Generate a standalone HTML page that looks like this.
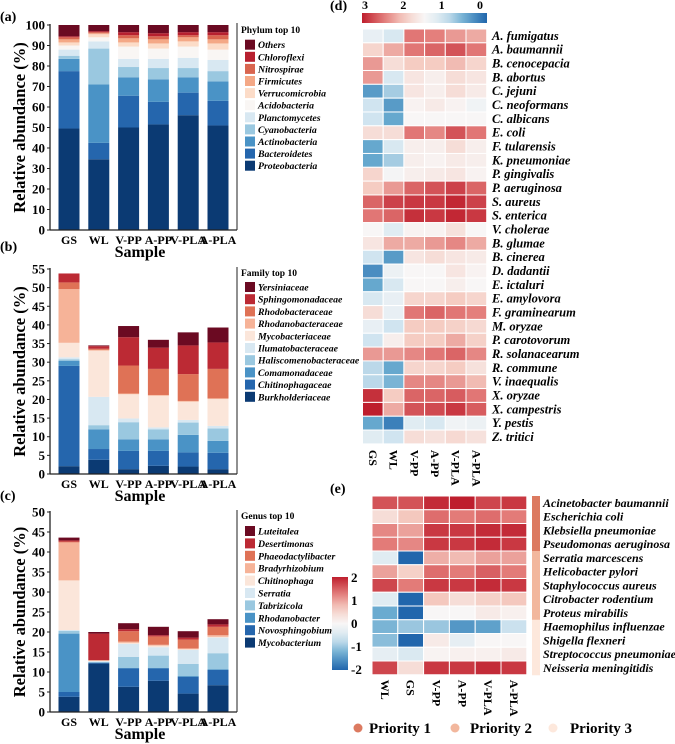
<!DOCTYPE html>
<html><head><meta charset="utf-8"><style>
html,body{margin:0;padding:0;background:#fff;}
svg{display:block;font-family:"Liberation Serif",serif;}
</style></head><body>
<svg id="fig" width="675" height="744" viewBox="0 0 675 744" xmlns="http://www.w3.org/2000/svg"></svg>
<script>
const samples = ["GS","WL","V-PP","A-PP","V-PLA","A-PLA"];
// Panel a (bottom->top)
const phylumNames = ["Proteobacteria","Bacteroidetes","Actinobacteria","Cyanobacteria","Planctomycetes","Acidobacteria","Verrucomicrobia","Firmicutes","Nitrospirae","Chloroflexi","Others"];
const phylumGS   = [49.5,28,6,1.5,3,2,1.5,1.5,1,0.5,5.5];
const phylumWL   = [34.5,8,28.5,17.5,3.5,2,1.5,0.5,0.5,0.5,3];
const phylumVPP  = [50,15.5,9,5,4,6,2,2,1.5,1.5,3.5];
const phylumAPP  = [51.5,11,11,5.5,4.5,5,2.5,2,1.5,1.5,4];
const phylumVPLA = [56,11,7.5,4.5,5,5.5,2.5,2,1,1.5,3.5];
const phylumAPLA = [51,12,9.5,5,5.5,5,3,2,2,1.5,3.5];
const phylumTicks = [0,10,20,30,40,50,60,70,80,90,100];
// Panel b
const familyNames = ["Burkholderiaceae","Chitinophagaceae","Comamonadaceae","Haliscomenobacteraceae","Ilumatobacteraceae","Mycobacteriaceae","Rhodanobacteraceae","Rhodobacteraceae","Sphingomonadaceae","Yersiniaceae"];
const familyGS   = [2.1,26.9,1.4,0.4,0.5,3.9,14.4,1.8,2.4,0];
const familyWL   = [3.8,2.9,5.3,1.1,7.6,12.4,0.2,0.3,0.7,0.2];
const familyVPP  = [1.3,4.9,3.1,4.6,1,6.5,0.2,7.5,7.6,3];
const familyAPP  = [2.2,4,3.1,2.7,0.5,8.5,0.2,7,5.7,2.1];
const familyVPLA = [2,3.8,4.7,3.3,0.7,4.9,0.2,7.2,7.7,3.5];
const familyAPLA = [1.3,4.4,3.2,3.3,0.7,7.2,0.2,7.9,7.1,4];
const familyTicks = [0,5,10,15,20,25,30,35,40,45,50,55];
// Panel c
const genusNames = ["Mycobacterium","Novosphingobium","Rhodanobacter","Tabrizicola","Serratia","Chitinophaga","Bradyrhizobium","Phaeodactylibacter","Desertimonas","Luteitalea"];
const genusGS   = [3.8,1.2,14.6,0.7,0.2,12.4,9.5,0.2,0.3,0.7];
const genusWL   = [12.1,0.2,0.1,0.1,0.2,0.1,0.1,0.1,6.6,0.4];
const genusVPP  = [6.3,4.6,0.1,2.8,3.2,0.3,0.3,2.6,0.5,1.5];
const genusAPP  = [7.8,3.1,0.1,3.1,2.1,0.4,0.2,2.1,0.3,2.1];
const genusVPLA = [4.6,4.2,0.2,3,3.5,0.2,0.2,2.2,0.5,1.6];
const genusAPLA = [6.7,3.8,0.2,4,3.9,0.2,0.4,2.1,0.6,1.3];
const genusTicks = [0,5,10,15,20,25,30,35,40,45,50];
// Panel d heatmap (0..3)
const dRows = ["A. fumigatus","A. baumannii","B. cenocepacia","B. abortus","C. jejuni","C. neoformans","C. albicans","E. coli","F. tularensis","K. pneumoniae","P. gingivalis","P. aeruginosa","S. aureus","S. enterica","V. cholerae","B. glumae","B. cinerea","D. dadantii","E. ictaluri","E. amylovora","F. graminearum","M. oryzae","P. carotovorum","R. solanacearum","R. commune","V. inaequalis","X. oryzae","X. campestris","Y. pestis","Z. tritici"];
const dCols = ["GS","WL","V-PP","A-PP","V-PLA","A-PLA"];
const dValues = [
[1.3,1.1,2.5,2.45,2.3,2.2],[1.9,2.2,2.5,2.6,2.7,2.5],[2.3,1.8,2.0,2.0,2.1,1.9],[2.3,1.1,1.7,1.6,1.8,1.7],
[0.4,0.8,1.7,1.6,1.8,1.65],[1.0,0.4,1.55,1.65,1.55,1.4],[1.0,0.5,1.5,1.5,1.5,1.5],[1.8,1.8,2.5,2.4,2.7,2.5],
[0.5,1.1,1.6,1.6,1.8,1.6],[0.5,0.8,1.6,1.55,1.65,1.6],[1.9,1.45,1.6,1.65,1.7,1.55],[2.0,2.3,2.6,2.7,2.8,2.6],
[2.6,2.8,2.85,2.85,2.95,2.8],[2.5,2.6,2.9,2.85,2.95,2.85],[1.5,1.2,1.55,1.55,1.75,1.5],[1.7,2.2,2.2,2.3,2.4,2.2],
[1.0,0.4,1.7,1.8,1.7,1.65],[0.3,1.35,1.5,1.5,1.7,1.55],[0.5,1.1,1.5,1.5,1.6,1.5],[1.1,1.3,1.9,1.9,2.0,1.9],
[1.8,1.3,2.5,2.6,2.5,2.45],[1.3,1.0,2.0,2.0,1.95,1.85],[1.0,1.6,2.0,2.0,2.2,1.95],[2.3,2.3,2.4,2.5,2.6,2.4],
[0.9,0.5,1.9,1.9,2.0,1.75],[0.9,0.6,2.4,2.4,2.3,2.1],[2.9,2.0,2.6,2.6,2.65,2.5],[3.0,2.2,2.7,2.75,2.85,2.65],
[0.5,0.2,1.2,1.1,1.4,1.35],[1.2,1.0,1.8,1.75,1.85,1.75]];
const dTicks = [3,2,1,0];
// Panel e heatmap (-2..2)
const eRows = ["Acinetobacter baumannii","Escherichia coli","Klebsiella pneumoniae","Pseudomonas aeruginosa","Serratia marcescens","Helicobacter pylori","Staphylococcus aureus","Citrobacter rodentium","Proteus mirabilis","Haemophilus influenzae","Shigella flexneri","Streptococcus pneumoniae","Neisseria meningitidis"];
const eCols = ["WL","GS","V-PP","A-PP","V-PLA","A-PLA"];
const ePriority = [1,1,1,1,2,2,2,2,2,3,3,3,3];
const eValues = [
[1.6,1.6,1.9,2.0,1.7,1.8],[0.4,0.7,1.4,1.3,1.4,1.3],[1.2,1.0,1.8,1.8,1.9,1.9],[1.3,1.2,1.8,1.8,1.9,1.8],
[-0.4,-2.0,0.9,0.8,1.0,1.0],[1.0,0.6,1.4,1.3,1.5,1.3],[1.7,1.3,1.8,1.8,1.9,1.8],[-0.4,-2.0,0.7,0.4,0.6,0.7],
[-1.3,-2.0,0.0,0.0,0.2,0.1],[-1.2,-1.0,-1.0,-1.5,-1.4,-0.7],[-1.1,-2.0,0.2,-0.3,0.0,0.0],[-0.3,-0.5,0.05,0.1,0.1,0.2],
[1.7,0.4,1.8,1.8,1.9,1.8]];
const eTicks = [2,1,0,-1,-2];

const NS="http://www.w3.org/2000/svg";
const fig=document.getElementById('fig');
function el(tag,attrs,parent,text){const e=document.createElementNS(NS,tag);for(const k in attrs)e.setAttribute(k,attrs[k]);if(text!==undefined)e.textContent=text;(parent||fig).appendChild(e);return e;}
const stackColors=["#0b3a73","#2566ad","#4a93c6","#9ac8e0","#d8e8f2","#f9f6f4","#fcdcc8","#f4a886","#d9654f","#b7202f","#6b0a22"];
const stackColors10=["#0b3a73","#2566ad","#4a93c6","#9ac8e0","#d8e8f2","#fbe6da","#f6b398","#df7256","#bc2a34","#6b0a22"];
function rdbu(t){
  const stops=[[-1,[33,102,172]],[-0.66,[103,169,207]],[-0.33,[209,229,240]],[0,[248,246,246]],[0.33,[245,205,195]],[0.66,[226,120,118]],[1,[190,30,45]]];
  t=Math.max(-1,Math.min(1,t));
  for(let i=0;i<stops.length-1;i++){const a=stops[i],b=stops[i+1];if(t<=b[0]){const f=(t-a[0])/(b[0]-a[0]);return 'rgb('+a[1].map((v,j)=>Math.round(v+(b[1][j]-v)*f)).join(',')+')';}}
  return 'rgb(190,30,45)';
}

function barPanel(o){
  const g=el('g',{},fig);
  
  
  const x0=50,x1=237,yTop=o.yTop,yBot=o.yBot;
  const yScale=v=>yBot-(v/o.max)*(yBot-yTop);
  const xc=i=>69+i*29.8;
  o.series.forEach((vals,si)=>{
    let cum=0;
    vals.forEach((v,k)=>{
      const r=el('rect',{x:xc(si)-10.5,y:yScale(cum+v),width:21,height:Math.max(0,yScale(cum)-yScale(cum+v)),fill:o.colors[k]},g);
      
      
      cum+=v;
    });
  });
  const ax=el('line',{x1:x0,y1:yTop-1,x2:x0,y2:yBot,stroke:'#222','stroke-width':1.3},g);
  
  const bx=el('line',{x1:x0,y1:yBot,x2:x1,y2:yBot,stroke:'#222','stroke-width':1.3},g);
  
  el('line',{x1:x1,y1:yTop-2,x2:x1,y2:yBot,stroke:'#222','stroke-width':1},g);
  o.ticks.forEach(t=>{
    el('line',{x1:x0-3,y1:yScale(t),x2:x0,y2:yScale(t),stroke:'#222'},g);
    const tx=el('text',{x:x0-5,y:yScale(t)+4.5,'text-anchor':'end','font-size':13,'font-weight':'bold'},g,t);
    
  });
  samples.forEach((s,i)=>{
    const tx=el('text',{x:xc(i),y:yBot+14,'text-anchor':'middle','font-size':12,'font-weight':'bold'},g,s);
    
  });
  const xt=el('text',{x:140,y:yBot+27,'text-anchor':'middle','font-size':16,'font-weight':'bold'},g,'Sample');
  
  const yc=(yTop+yBot)/2;
  const yt=el('text',{x:0,y:0,transform:'translate(25,'+yc+') rotate(-90)','text-anchor':'middle','font-size':16.5,'font-weight':'bold'},g,'Relative abundance (%)');
  
  const lt=el('text',{x:241,y:o.legY,'font-size':9.5,'font-weight':'bold'},g,o.legTitle);
  
  const n=o.names.length;
  for(let j=0;j<n;j++){
    const k=n-1-j;const yy=o.legY0+j*o.legStep;
    const e=el('g',{},g);
    el('rect',{x:245,y:yy-5,width:10,height:10,fill:o.colors[k]},e);
    el('text',{x:258,y:yy+3.5,'font-size':9.8,'font-weight':'bold','font-style':'italic'},e,o.names[k]);
  }
}
barPanel({name:'phylum-chart',yTop:25,yBot:230,max:100,ticks:phylumTicks,names:phylumNames,colors:stackColors,
  series:[phylumGS,phylumWL,phylumVPP,phylumAPP,phylumVPLA,phylumAPLA],legTitle:'Phylum top 10',legY:33,legY0:44.7,legStep:12.1});
barPanel({name:'family-chart',yTop:269,yBot:474,max:55,ticks:familyTicks,names:familyNames,colors:stackColors10,
  series:[familyGS,familyWL,familyVPP,familyAPP,familyVPLA,familyAPLA],legTitle:'Family top 10',legY:276,legY0:287,legStep:12.2});
barPanel({name:'genus-chart',yTop:512,yBot:712,max:50,ticks:genusTicks,names:genusNames,colors:stackColors10,
  series:[genusGS,genusWL,genusVPP,genusAPP,genusVPLA,genusAPLA],legTitle:'Genus top 10',legY:519,legY0:531,legStep:12.4});

[['(a)',0,21],['(b)',0,251],['(c)',0,500],['(d)',330,10],['(e)',330,493]].forEach(p=>{
  const t=el('text',{x:p[1],y:p[2],'font-size':14,'font-weight':'bold'},fig,p[0]);
  
});

// Panel d
(function(){
  const g=el('g',{},fig);
  const x0=362.5,cw=20.7,y0=29,rh=13.83;
  const defs=el('defs',{},g);
  const lg=el('linearGradient',{id:'gd',x1:0,x2:1,y1:0,y2:0},defs);
  for(let i=0;i<=10;i++){el('stop',{offset:i/10,'stop-color':rdbu(1-2*i/10)},lg);}
  const cb=el('rect',{x:362,y:13,width:125,height:10,fill:'url(#gd)'},g);
  
  dTicks.forEach(t=>{
    const tx=el('text',{x:365+(3-t)/3*(480-365),y:9,'text-anchor':'middle','font-size':12,'font-weight':'bold'},g,t);
    
  });
  dValues.forEach((row,r)=>{
    row.forEach((v,c)=>{
      const cell=el('rect',{x:x0+c*cw,y:y0+r*rh,width:cw,height:rh,fill:rdbu((v-1.5)/1.5),stroke:'#fff','stroke-width':1},g);
      
    });
    const tx=el('text',{x:492,y:y0+r*rh+rh/2+4,'font-size':12.5,'font-weight':'bold','font-style':'italic'},g,dRows[r]);
    
  });
  dCols.forEach((c,i)=>{
    const tx=el('text',{x:0,y:0,transform:'translate('+(x0+i*cw+cw/2-4)+','+(y0+30*rh+6)+') rotate(90)','font-size':12,'font-weight':'bold'},g,c);
    
  });
})();

// Panel e
(function(){
  const g=el('g',{},fig);
  const x0=372,cw=25.8,y0=496,rh=13.75;
  const defs=el('defs',{},g);
  const lg=el('linearGradient',{id:'ge',x1:0,x2:0,y1:0,y2:1},defs);
  for(let i=0;i<=10;i++){el('stop',{offset:i/10,'stop-color':rdbu(1-2*i/10)},lg);}
  const cb=el('rect',{x:332,y:577,width:16,height:93,fill:'url(#ge)'},g);
  
  eTicks.forEach(t=>{
    const tx=el('text',{x:351,y:623.5+(-t)*23+4.5,'font-size':13,'font-weight':'bold'},g,t);
    
  });
  const pc={1:'#dc7a60',2:'#f2b79d',3:'#fde8dc'};
  eValues.forEach((row,r)=>{
    row.forEach((v,c)=>{
      const cell=el('rect',{x:x0+c*cw,y:y0+r*rh,width:cw,height:rh,fill:rdbu(v/2),stroke:'#fff','stroke-width':1},g);
      
    });
    const pr=el('rect',{x:532,y:y0+r*rh,width:8,height:rh+0.5,fill:pc[ePriority[r]]},g);
    
    const tx=el('text',{x:543,y:y0+r*rh+rh/2+4,'font-size':12,'font-weight':'bold','font-style':'italic'},g,eRows[r]);
    
  });
  eCols.forEach((c,i)=>{
    const tx=el('text',{x:0,y:0,transform:'translate('+(x0+i*cw+cw/2-4)+','+(y0+13*rh+5)+') rotate(90)','font-size':12,'font-weight':'bold'},g,c);
    
  });
  [[358,369,'Priority 1',1],[455,470,'Priority 2',2],[553,570,'Priority 3',3]].forEach(p=>{
    const e=el('g',{},g);
    el('circle',{cx:p[0],cy:728,r:4.5,fill:pc[p[3]]},e);
    el('text',{x:p[1],y:733,'font-size':15,'font-weight':'bold'},e,p[2]);
  });
})();
</script>
</body></html>
